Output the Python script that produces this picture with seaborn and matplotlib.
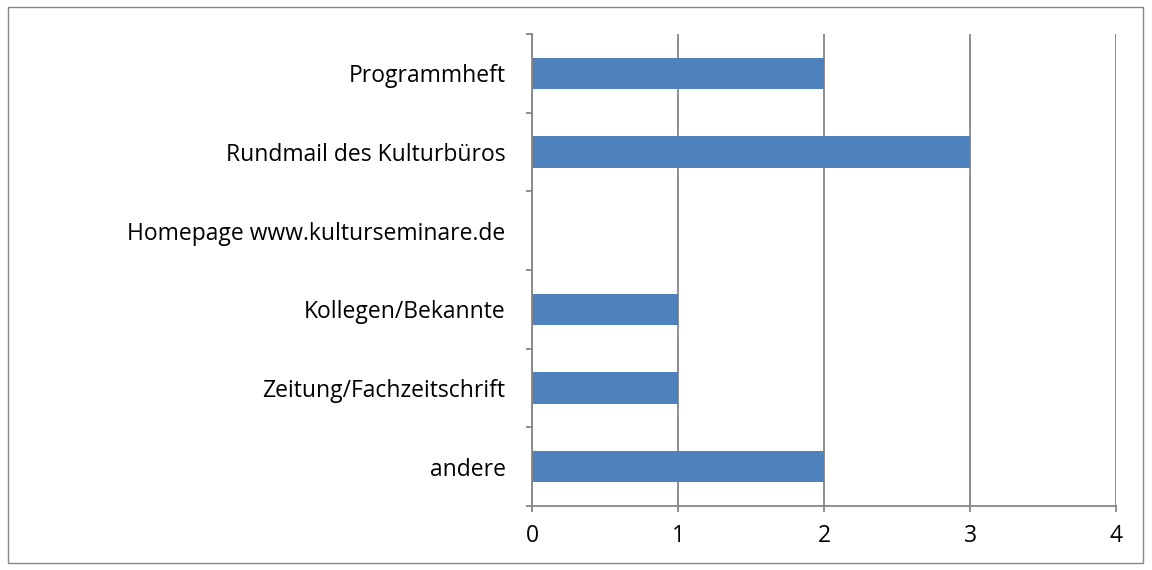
import matplotlib
matplotlib.use("Agg")
import matplotlib.pyplot as plt
import seaborn as sns
import pandas as pd
from matplotlib.patches import Rectangle

# data
categories = ['Programmheft', 'Rundmail des Kulturbüros', 'Homepage www.kulturseminare.de',
              'Kollegen/Bekannte', 'Zeitung/Fachzeitschrift', 'andere']
counts = [2, 3, 0, 1, 1, 2]
xticks = [0, 1, 2, 3, 4]

df = pd.DataFrame({'Kategorie': categories, 'Anzahl': counts})

sns.set_style('white')
plt.rcParams['font.family'] = ['Open Sans', 'DejaVu Sans']

fig = plt.figure(figsize=(11.52, 5.70), dpi=100)
ax = fig.add_axes([0.4618, 0.1123, 0.9688 - 0.4618, 0.9404 - 0.1123])

sns.barplot(data=df, x='Anzahl', y='Kategorie', order=categories, color='#4F81BD',
            width=0.4, saturation=1, linewidth=0, ax=ax)

grid_c = '#868686'
ax.set_xlim(0, 4)
ax.set_ylim(len(categories) - 0.5, -0.5)
ax.set_xticks(xticks)
ax.set_xticklabels([str(t) for t in xticks])
ax.xaxis.grid(True, color=grid_c, linewidth=1.3)
ax.set_axisbelow(True)
ax.set_xlabel('')
ax.set_ylabel('')

for s in ['top', 'right']:
    ax.spines[s].set_visible(False)
for s in ['left', 'bottom']:
    ax.spines[s].set_color(grid_c)
    ax.spines[s].set_linewidth(1.3)

ax.set_yticks([i + 0.5 for i in range(-1, len(categories))], minor=True)
ax.tick_params(axis='y', which='major', length=0, pad=19, labelsize=16.5, labelcolor='black')
ax.tick_params(axis='y', which='minor', length=4, width=1.3, color=grid_c, direction='out', left=True)
ax.tick_params(axis='x', which='major', length=4, width=1.3, color=grid_c, direction='out',
               pad=9, labelsize=16.5, labelcolor='black', bottom=True)

# outer chart border
fig.patches.append(Rectangle((8 / 1152, 1 - 563 / 570), (1143 - 8) / 1152, (563 - 7) / 570,
                             transform=fig.transFigure, fill=False, edgecolor=grid_c,
                             linewidth=1.0))

fig.savefig('out.png', dpi=100)
